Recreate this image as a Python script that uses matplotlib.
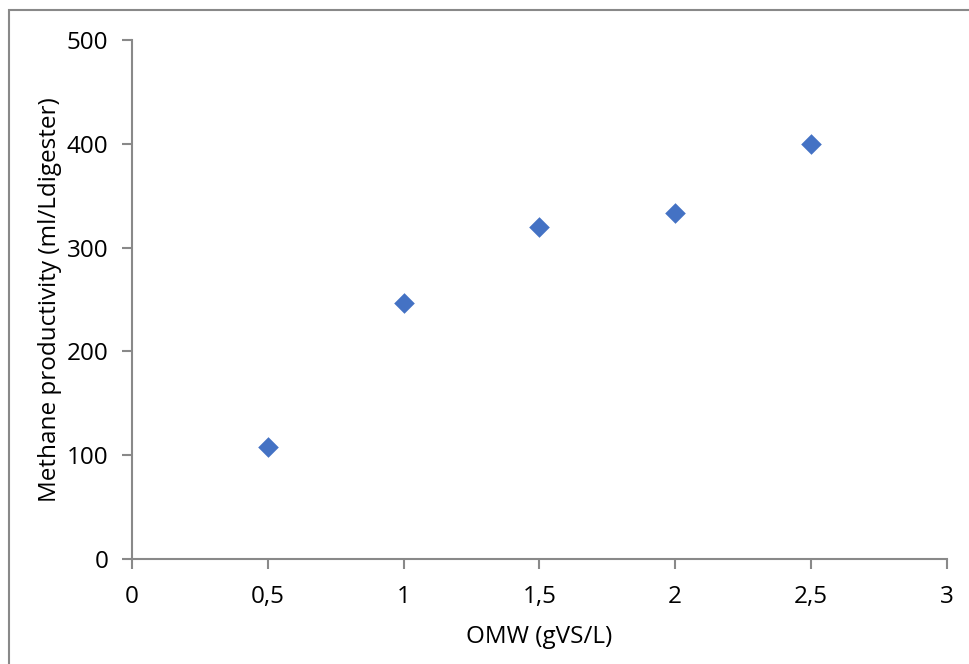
import matplotlib
matplotlib.use("Agg")
import matplotlib.pyplot as plt
from matplotlib.patches import Rectangle

# ── Data ─────────────────────────────────────────────────────────────────────
omw_load = [0.5, 1.0, 1.5, 2.0, 2.5]           # gVS/L
methane = [108, 247, 320, 333, 400]            # ml/L digester

x_ticks = [0, 0.5, 1, 1.5, 2, 2.5, 3]
x_tick_labels = ["0", "0,5", "1", "1,5", "2", "2,5", "3"]
y_ticks = [0, 100, 200, 300, 400, 500]

plt.rcParams["font.family"] = ["Open Sans", "DejaVu Sans"]

AXIS_GREY = "#898989"

fig = plt.figure(figsize=(9.70, 6.64), dpi=100)
ax = fig.add_axes([0.136, 0.158, 0.840, 0.782])

ax.scatter(omw_load, methane, marker="D", s=10.5 ** 2, color="#4472C4",
           edgecolors="#4472C4", linewidths=0, zorder=3)

ax.set_xlim(0, 3)
ax.set_ylim(0, 500)
ax.set_xticks(x_ticks)
ax.set_xticklabels(x_tick_labels)
ax.set_yticks(y_ticks)

for side in ("top", "right"):
    ax.spines[side].set_visible(False)
for side in ("left", "bottom"):
    ax.spines[side].set_color(AXIS_GREY)
    ax.spines[side].set_linewidth(1.5)

ax.tick_params(axis="both", direction="out", length=7, width=1.5,
               color=AXIS_GREY, labelsize=17.5, labelcolor="black")
ax.tick_params(axis="x", pad=12)
ax.tick_params(axis="y", pad=10)

ax.set_xlabel("OMW (gVS/L)", fontsize=17.5, labelpad=11)
ax.set_ylabel("Methane productivity (ml/Ldigester)", fontsize=17.5, labelpad=3)

# chart-area border like the Excel export
fig.patches.append(Rectangle((9 / 970, -0.05), 1.2, 1 - 10 / 664 + 0.05,
                             transform=fig.transFigure, fill=False,
                             edgecolor=AXIS_GREY, linewidth=1.5))

fig.savefig("out.png", dpi=100)
